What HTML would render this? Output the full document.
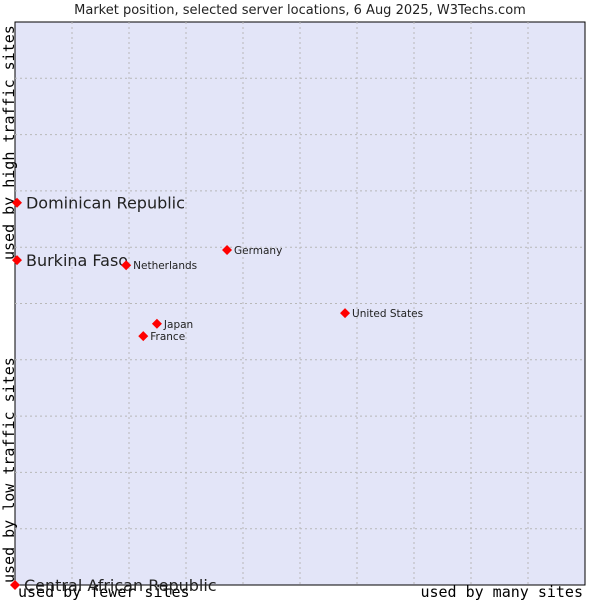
<!DOCTYPE html>
<html><head><meta charset="utf-8"><style>
body{margin:0;background:#fff;}
svg{display:block;font-family:"DejaVu Sans","Liberation Sans",sans-serif;}
.mono{font-family:"DejaVu Sans Mono","Liberation Mono",monospace;font-size:15px;fill:#000;}
</style></head><body>
<svg id="chart" width="600" height="600">
<text x="300" y="14" text-anchor="middle" font-size="13" fill="#222">Market position, selected server locations, 6 Aug 2025, W3Techs.com</text>
<rect x="15" y="22" width="570" height="563" fill="#e3e5f8" stroke="#000" stroke-width="1"/>
<g id="grid"></g>
<text class="mono" transform="translate(14,260) rotate(-90)">used by high traffic sites</text>
<text class="mono" transform="translate(14,583) rotate(-90)">used by low traffic sites</text>
<text class="mono" x="18" y="597">used by fewer sites</text>
<text class="mono" x="583" y="597" text-anchor="end">used by many sites</text>
<g id="points"></g>
</svg>
<script>
const names=["Dominican Republic","Burkina Faso","Netherlands","Germany","United States","Japan","France","Central African Republic"];
const xVals=[0.35,0.35,19.5,37.2,57.9,24.9,22.5,0];
const yVals=[67.9,57.7,56.8,59.5,48.3,46.4,44.2,0];
const big=[true,true,false,false,false,false,false,true];
const NS="http://www.w3.org/2000/svg";
const L=15,R=585,T=22,B=585;
function sx(v){return L+(R-L)*v/100;}
function sy(v){return B-(B-T)*v/100;}
const grid=document.getElementById('grid');
for(let i=1;i<10;i++){
 let l=document.createElementNS(NS,'line');
 
 
 l.setAttribute('x1',sx(i*10));l.setAttribute('x2',sx(i*10));l.setAttribute('y1',T);l.setAttribute('y2',B);
 l.setAttribute('stroke','#b8b8b8');l.setAttribute('stroke-dasharray','2,3');grid.appendChild(l);
 let m=document.createElementNS(NS,'line');
 
 
 m.setAttribute('y1',sy(i*10));m.setAttribute('y2',sy(i*10));m.setAttribute('x1',L);m.setAttribute('x2',R);
 m.setAttribute('stroke','#b8b8b8');m.setAttribute('stroke-dasharray','2,3');grid.appendChild(m);
}
const pts=document.getElementById('points');
names.forEach((n,i)=>{
 const x=sx(xVals[i]),y=sy(yVals[i]);
 const p=document.createElementNS(NS,'path');
 
 
 p.setAttribute('d',`M${x-5},${y}L${x},${y-5}L${x+5},${y}L${x},${y+5}Z`);
 p.setAttribute('fill','#f00');pts.appendChild(p);
 const t=document.createElementNS(NS,'text');
 
 
 t.setAttribute('x',x+(big[i]?9:7));t.setAttribute('y',y+(big[i]?6:4));
 t.setAttribute('font-size',big[i]?16:10.5);t.setAttribute('fill','#222');
 t.textContent=n;pts.appendChild(t);
});
</script>
</body></html>
